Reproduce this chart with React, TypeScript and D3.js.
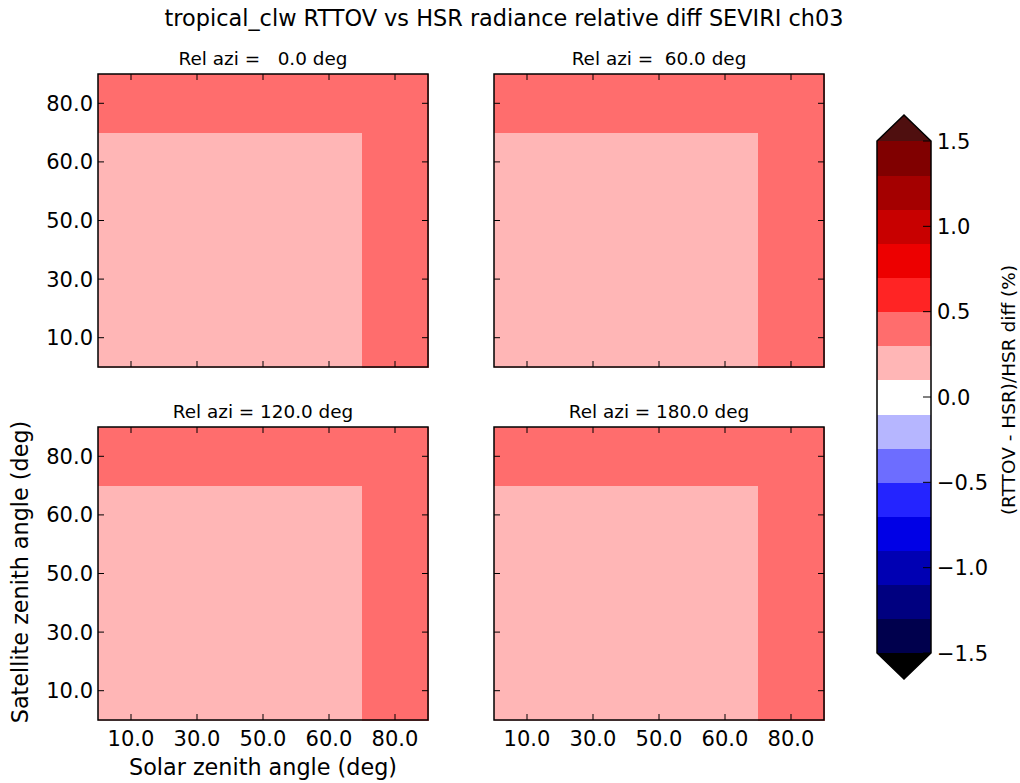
import React from "react";
import * as d3 from "d3";

const solarAngles = [10, 30, 50, 60, 80];
const satAngles = [10, 30, 50, 60, 80];
const relAzis = [0, 60, 120, 180];
// rows: satellite angle index (10..80), cols: solar angle index (10..80)
const diff0 = [
  [0.2, 0.2, 0.2, 0.2, 0.4],
  [0.2, 0.2, 0.2, 0.2, 0.4],
  [0.2, 0.2, 0.2, 0.2, 0.4],
  [0.2, 0.2, 0.2, 0.2, 0.4],
  [0.4, 0.4, 0.4, 0.4, 0.4],
];
const diff60 = [
  [0.2, 0.2, 0.2, 0.2, 0.4],
  [0.2, 0.2, 0.2, 0.2, 0.4],
  [0.2, 0.2, 0.2, 0.2, 0.4],
  [0.2, 0.2, 0.2, 0.2, 0.4],
  [0.4, 0.4, 0.4, 0.4, 0.4],
];
const diff120 = [
  [0.2, 0.2, 0.2, 0.2, 0.4],
  [0.2, 0.2, 0.2, 0.2, 0.4],
  [0.2, 0.2, 0.2, 0.2, 0.4],
  [0.2, 0.2, 0.2, 0.2, 0.4],
  [0.4, 0.4, 0.4, 0.4, 0.4],
];
const diff180 = [
  [0.2, 0.2, 0.2, 0.2, 0.4],
  [0.2, 0.2, 0.2, 0.2, 0.4],
  [0.2, 0.2, 0.2, 0.2, 0.4],
  [0.2, 0.2, 0.2, 0.2, 0.4],
  [0.4, 0.4, 0.4, 0.4, 0.4],
];
const panelData = [diff0, diff60, diff120, diff180];
const levels = d3.range(16).map((i) => +(-1.5 + i * 0.2).toFixed(2));
const cbarTicks = [-1.5, -1.0, -0.5, 0.0, 0.5, 1.0, 1.5];
const bandColors = [
  "#00004d", "#000080", "#0000b3", "#0000e6", "#2424ff", "#6d6dff", "#b6b6ff",
  "#ffffff",
  "#ffb6b6", "#ff6d6d", "#ff2424", "#ed0000", "#c80000", "#a40000", "#800000",
];
const overColor = "#4f0f0f";
const underColor = "#000000";

const font = "'DejaVu Sans', sans-serif";

function colorFor(v: number) {
  if (v > levels[levels.length - 1]) return overColor;
  if (v < levels[0]) return underColor;
  const i = Math.min(bandColors.length - 1, Math.floor((v - levels[0]) / 0.2 + 1e-9));
  return bandColors[i];
}

const cols = [98, 494];
const rows = [74, 427];
const PW = 330;
const PH = 293;
const TICK_FS = 21;

function Panel({ x0, y0, data, azi, showX }: any) {
  const xs = d3.scaleBand<number>().domain(solarAngles).range([x0, x0 + PW]).paddingInner(0);
  const ys = d3.scaleBand<number>().domain(satAngles).range([y0 + PH, y0]).paddingInner(0);
  const tl = 6;
  const title = "Rel azi = " + d3.format("5.1f")(azi).replace(/ /g, "\u00a0") + " deg";
  return (
    <g>
      {data.map((row: number[], ri: number) =>
        row.map((v: number, ci: number) => (
          <rect
            key={ri + "-" + ci}
            x={xs(solarAngles[ci])!}
            y={ys(satAngles[ri])!}
            width={xs.bandwidth() + 0.5}
            height={ys.bandwidth() + 0.5}
            fill={colorFor(v)}
            shapeRendering="crispEdges"
          />
        ))
      )}
      <rect x={x0} y={y0} width={PW} height={PH} fill="none" stroke="#000" strokeWidth={1.5} />
      {solarAngles.map((a) => {
        const x = xs(a)! + xs.bandwidth() / 2;
        return (
          <g key={"xt" + a}>
            <line x1={x} x2={x} y1={y0 + PH} y2={y0 + PH - tl} stroke="#000" />
            <line x1={x} x2={x} y1={y0} y2={y0 + tl} stroke="#000" />
            {showX && (
              <text x={x} y={y0 + PH + 26} textAnchor="middle" fontSize={TICK_FS} fontFamily={font}>
                {d3.format(".1f")(a)}
              </text>
            )}
          </g>
        );
      })}
      {satAngles.map((a) => {
        const y = ys(a)! + ys.bandwidth() / 2;
        return (
          <g key={"yt" + a}>
            <line x1={x0} x2={x0 + tl} y1={y} y2={y} stroke="#000" />
            <line x1={x0 + PW} x2={x0 + PW - tl} y1={y} y2={y} stroke="#000" />
            {x0 === cols[0] && (
              <text x={x0 - 5} y={y + 7.5} textAnchor="end" fontSize={TICK_FS} fontFamily={font}>
                {d3.format(".1f")(a)}
              </text>
            )}
          </g>
        );
      })}
      <text x={x0 + PW / 2} y={y0 - 9} textAnchor="middle" fontSize={18.4} fontFamily={font}>
        {title}
      </text>
    </g>
  );
}

export default function App() {
  const cbX = 877;
  const cbW = 54;
  const cy = d3.scaleLinear().domain([-1.5, 1.5]).range([653, 141]);
  const extH = 26;
  return (
    <svg width={1020} height={783} style={{ position: "absolute", left: 0, top: 0, background: "#fff" }}>
      <rect width={1020} height={783} fill="#fff" />
      <text x={504} y={26} textAnchor="middle" fontSize={22.4} fontFamily={font}>
        tropical_clw RTTOV vs HSR radiance relative diff SEVIRI ch03
      </text>
      {relAzis.map((azi, i) => (
        <Panel
          key={azi}
          x0={cols[i % 2]}
          y0={rows[Math.floor(i / 2)]}
          data={panelData[i]}
          azi={azi}
          showX={i >= 2}
        />
      ))}
      <text x={263} y={775} textAnchor="middle" fontSize={22.3} fontFamily={font}>
        Solar zenith angle (deg)
      </text>
      <text
        transform={`translate(28,572) rotate(-90)`}
        textAnchor="middle"
        fontSize={22.3}
        fontFamily={font}
      >
        Satellite zenith angle (deg)
      </text>
      {/* colorbar */}
      {bandColors.map((c, i) => (
        <rect
          key={i}
          x={cbX}
          y={cy(levels[i + 1])}
          width={cbW}
          height={cy(levels[i]) - cy(levels[i + 1]) + 0.5}
          fill={c}
          shapeRendering="crispEdges"
        />
      ))}
      <path
        d={`M${cbX},${cy(1.5)} L${cbX + cbW / 2},${cy(1.5) - extH} L${cbX + cbW},${cy(1.5)} Z`}
        fill={overColor}
      />
      <path
        d={`M${cbX},${cy(-1.5)} L${cbX + cbW / 2},${cy(-1.5) + extH} L${cbX + cbW},${cy(-1.5)} Z`}
        fill={underColor}
      />
      <path
        d={`M${cbX},${cy(1.5)} L${cbX + cbW / 2},${cy(1.5) - extH} L${cbX + cbW},${cy(1.5)} L${cbX + cbW},${cy(-1.5)} L${cbX + cbW / 2},${cy(-1.5) + extH} L${cbX},${cy(-1.5)} Z`}
        fill="none"
        stroke="#000"
        strokeWidth={1.5}
      />
      {cbarTicks.map((t) => (
        <g key={t}>
          <line x1={cbX + cbW - 8} x2={cbX + cbW} y1={cy(t)} y2={cy(t)} stroke="#000" />
          <text x={cbX + cbW + 6} y={cy(t) + 7.5} fontSize={TICK_FS} fontFamily={font}>
            {d3.format(".1f")(t).replace("-", "\u2212")}
          </text>
        </g>
      ))}
      <text
        transform={`translate(1015,390) rotate(-90)`}
        textAnchor="middle"
        fontSize={18.5}
        fontFamily={font}
      >
        (RTTOV - HSR)/HSR diff (%)
      </text>
    </svg>
  );
}
